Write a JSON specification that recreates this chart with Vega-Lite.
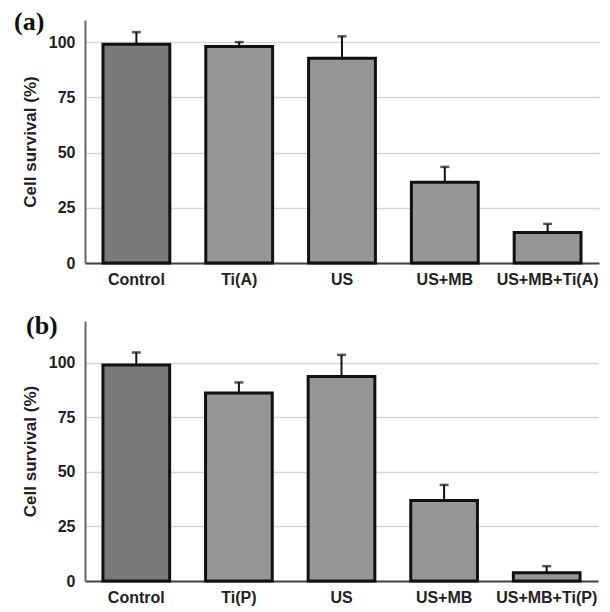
{
  "$schema": "https://vega.github.io/schema/vega-lite/v6.json",
  "padding": {"left": 14, "top": 9, "right": 4, "bottom": 2},
  "background": "white",
  "spacing": 26,
  "config": {
    "view": {"stroke": null},
    "font": "Liberation Sans",
    "title": {"font": "Liberation Serif", "fontSize": 26, "fontWeight": "bold", "color": "#111111", "anchor": "start", "frame": "group", "baseline": "middle", "offset": 0}
  },
  "datasets": {
    "a": [
      {"group": "Control", "value": 99.0, "upper": 104.5},
      {"group": "Ti(A)", "value": 98.0, "upper": 100.0},
      {"group": "US", "value": 92.7, "upper": 102.6},
      {"group": "US+MB", "value": 36.5, "upper": 43.5},
      {"group": "US+MB+Ti(A)", "value": 13.8, "upper": 17.7}
    ],
    "b": [
      {"group": "Control", "value": 98.9, "upper": 104.6},
      {"group": "Ti(P)", "value": 86.0, "upper": 90.9},
      {"group": "US", "value": 93.6, "upper": 103.5},
      {"group": "US+MB", "value": 36.8, "upper": 44.0},
      {"group": "US+MB+Ti(P)", "value": 3.8, "upper": 6.8}
    ]
  },
  "vconcat": [
    {
      "data": {"name": "a"},
      "width": 514,
      "height": 243,
      "title": {"text": "(a)", "dx": -71, "dy": 19},
      "encoding": {
        "x": {
          "field": "group", "type": "nominal", "sort": null,
          "scale": {"paddingInner": 0.35, "paddingOuter": 0.175},
          "axis": {"title": null, "labelAngle": 0, "labelFontSize": 16, "labelFontWeight": "bold", "labelColor": "#222222",
            "ticks": false, "domainColor": "#444444", "domainWidth": 2, "labelPadding": 8, "grid": false}
        }
      },
      "layer": [
        {
          "mark": {"type": "bar", "stroke": "#111111", "strokeWidth": 3},
          "encoding": {
            "y": {
              "field": "value", "type": "quantitative", "scale": {"domain": [0, 110], "nice": false},
              "axis": {"values": [0, 25, 50, 75, 100], "title": "Cell survival (%)", "titleFontSize": 17, "titleFontWeight": "bold",
                "titleColor": "#222222", "titlePadding": 9, "labelFontSize": 16, "labelFontWeight": "bold", "labelColor": "#222222",
                "labelPadding": 10, "ticks": false, "grid": true, "gridColor": "#d6d6d6", "gridWidth": 1.5,
                "domainColor": "#666666", "domainWidth": 2}
            },
            "fill": {"condition": {"test": "datum.group === 'Control'", "value": "#7a7a7a"}, "value": "#969696"}
          }
        },
        {
          "mark": {"type": "rule", "color": "#111111", "strokeWidth": 2},
          "encoding": {"y": {"field": "value", "type": "quantitative"}, "y2": {"field": "upper"}}
        },
        {
          "mark": {"type": "tick", "color": "#111111", "thickness": 2.5, "size": 9, "orient": "horizontal"},
          "encoding": {"y": {"field": "upper", "type": "quantitative"}}
        }
      ]
    },
    {
      "data": {"name": "b"},
      "width": 513,
      "height": 260,
      "title": {"text": "(b)", "dx": -59, "dy": 22},
      "encoding": {
        "x": {
          "field": "group", "type": "nominal", "sort": null,
          "scale": {"paddingInner": 0.35, "paddingOuter": 0.175},
          "axis": {"title": null, "labelAngle": 0, "labelFontSize": 16, "labelFontWeight": "bold", "labelColor": "#222222",
            "ticks": false, "domainColor": "#444444", "domainWidth": 2, "labelPadding": 8, "grid": false}
        }
      },
      "layer": [
        {
          "mark": {"type": "bar", "stroke": "#111111", "strokeWidth": 3},
          "encoding": {
            "y": {
              "field": "value", "type": "quantitative", "scale": {"domain": [0, 119], "nice": false},
              "axis": {"values": [0, 25, 50, 75, 100], "title": "Cell survival (%)", "titleFontSize": 17, "titleFontWeight": "bold",
                "titleColor": "#222222", "titlePadding": 9, "labelFontSize": 16, "labelFontWeight": "bold", "labelColor": "#222222",
                "labelPadding": 10, "ticks": false, "grid": true, "gridColor": "#d6d6d6", "gridWidth": 1.5,
                "domainColor": "#666666", "domainWidth": 2}
            },
            "fill": {"condition": {"test": "datum.group === 'Control'", "value": "#7a7a7a"}, "value": "#969696"}
          }
        },
        {
          "mark": {"type": "rule", "color": "#111111", "strokeWidth": 2},
          "encoding": {"y": {"field": "value", "type": "quantitative"}, "y2": {"field": "upper"}}
        },
        {
          "mark": {"type": "tick", "color": "#111111", "thickness": 2.5, "size": 9, "orient": "horizontal"},
          "encoding": {"y": {"field": "upper", "type": "quantitative"}}
        }
      ]
    }
  ]
}
